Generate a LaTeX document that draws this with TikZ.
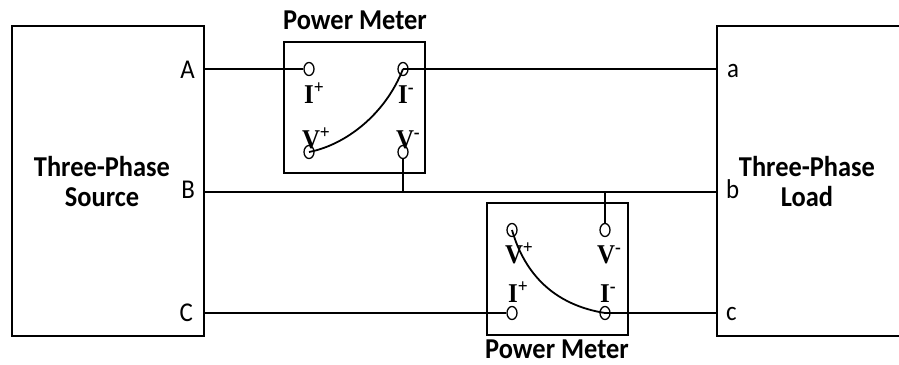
\documentclass[tikz,border=0pt]{standalone}
\usepackage{fontspec}
\usepackage{graphicx}
\setmainfont{Carlito}
\newfontfamily\lblserif{Liberation Serif}
\newcommand{\vstretch}[1]{\scalebox{1}[1.09]{#1}}
\usetikzlibrary{shapes.geometric}
\begin{document}
\begin{tikzpicture}[x=1bp,y=-1bp,
  bigbox/.style={draw, line width=1.8bp, inner sep=0},
  meterbox/.style={draw, line width=1.4bp, inner sep=0},
  term/.style={draw, ellipse, line width=1.3bp, minimum width=10bp, minimum height=13bp, inner sep=0},
  wire/.style={line width=1.8bp},
  title/.style={font=\fontsize{26.5}{30}\selectfont\bfseries, align=center, inner sep=0},
  port/.style={font=\fontsize{25}{28}\selectfont, inner sep=0},
  plab/.style={font=\lblserif\fontsize{25}{28}\selectfont\bfseries, inner sep=0}]
\useasboundingbox (0,0) rectangle (899,364);

% source and load
\node[bigbox, minimum width=192bp, minimum height=310bp] (src) at (108,181) {};
\node[title, anchor=base] (srct) at (102,206) {\vstretch{Three-Phase}\\\vstretch{Source}};
\draw[wire] (899,26) -- (717,26) -- (717,336) -- (899,336);
\node[title, anchor=base] (loadt) at (807,206) {\vstretch{Three-Phase}\\\vstretch{Load}};

\coordinate (sA) at (204,69);
\coordinate (sB) at (204,192);
\coordinate (sC) at (204,313);
\coordinate (la) at (717,69);
\coordinate (lb) at (717,192);
\coordinate (lc) at (717,313);

\node[port, anchor=base east] (pA) at (195,78) {\vstretch{A}};
\node[port, anchor=base east] (pB) at (195,198) {\vstretch{B}};
\node[port, anchor=base east] (pC) at (193,321) {\vstretch{C}};
\node[port, anchor=base west] (pa) at (727,77) {\vstretch{a}};
\node[port, anchor=base west] (pb) at (726,198) {\vstretch{b}};
\node[port, anchor=base west] (pc) at (726,320) {\vstretch{c}};

% meter 1
\node[meterbox, minimum width=141bp, minimum height=131bp] (m1) at (354.5,107.5) {};
\node[title, anchor=base] (m1t) at (355,29) {\vstretch{Power Meter}};
\node[term] (m1ip) at (309,69) {};
\node[term] (m1im) at (403,69) {};
\node[term] (m1vp) at (309,152) {};
\node[term] (m1vm) at (403,152) {};
\node[plab, anchor=base] (l1ip) at (309,103) {\vstretch{I}\rlap{\vstretch{\textsuperscript{+}}}};
\node[plab, anchor=base] (l1im) at (403,103) {\vstretch{I}\rlap{\vstretch{\textsuperscript{-}}}};
\node[plab, anchor=base] (l1vp) at (311,148) {\vstretch{V}\rlap{\vstretch{\textsuperscript{+}}}};
\node[plab, anchor=base] (l1vm) at (405,148) {\vstretch{V}\rlap{\vstretch{\textsuperscript{-}}}};

% meter 2
\node[meterbox, minimum width=141bp, minimum height=132bp] (m2) at (557.5,269) {};
\node[title, anchor=base] (m2t) at (557,358) {\vstretch{Power Meter}};
\node[term] (m2vp) at (512,230) {};
\node[term] (m2vm) at (605,230) {};
\node[term] (m2ip) at (512,313) {};
\node[term] (m2im) at (605,313) {};
\node[plab, anchor=base] (l2vp) at (514,263) {\vstretch{V}\rlap{\vstretch{\textsuperscript{+}}}};
\node[plab, anchor=base] (l2vm) at (606,263) {\vstretch{V}\rlap{\vstretch{\textsuperscript{-}}}};
\node[plab, anchor=base] (l2ip) at (513,302) {\vstretch{I}\rlap{\vstretch{\textsuperscript{+}}}};
\node[plab, anchor=base] (l2im) at (605,302) {\vstretch{I}\rlap{\vstretch{\textsuperscript{-}}}};

% wires
\draw[wire] (sA) -- (m1ip.west);
\draw[wire] (m1im.center) -- (la);
\draw[wire] (sB) -- (lb);
\draw[wire] (sC) -- (m2ip.west);
\draw[wire] (m2im.center) -- (lc);
\draw[wire] (m1vm.south) -- (m1vm |- sB);
\draw[wire] (m2vm.north) -- (m2vm |- sB);
\draw[wire] (m1vp.center) .. controls (345,145) and (385,115) .. (m1im.center);
\draw[wire] (m2vp.center) .. controls (525,275) and (555,305) .. (m2im.center);
\end{tikzpicture}
\end{document}
